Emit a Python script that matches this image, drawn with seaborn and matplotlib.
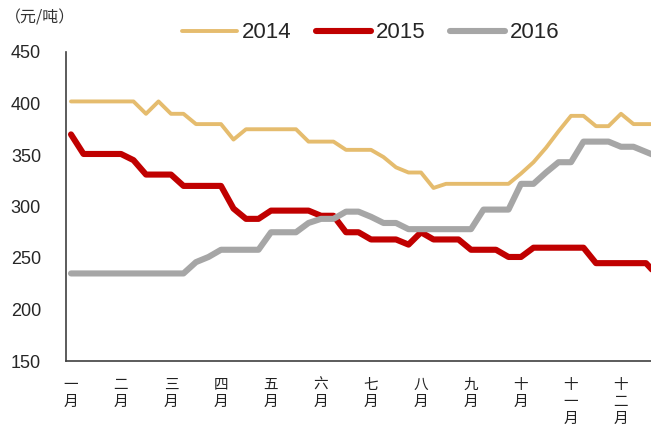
import matplotlib
matplotlib.use("Agg")
import matplotlib.pyplot as plt
import seaborn as sns
import numpy as np
import pandas as pd

# weekly prices (yuan / ton), 4 points per month
price_2014 = [402, 402, 402, 402, 402, 402, 390, 402, 390, 390, 380, 380,
              380, 365, 375, 375, 375, 375, 375, 363, 363, 363, 355, 355,
              355, 348, 338, 333, 333, 318, 322, 322, 322, 322, 322, 322,
              332, 343, 357, 373, 388, 388, 378, 378, 390, 380, 380, 380]
price_2015 = [370, 351, 351, 351, 351, 345, 331, 331, 331, 320, 320, 320,
              320, 298, 288, 288, 296, 296, 296, 296, 291, 291, 275, 275,
              268, 268, 268, 263, 275, 268, 268, 268, 258, 258, 258, 251,
              251, 260, 260, 260, 260, 260, 245, 245, 245, 245, 245, 232]
price_2016 = [235, 235, 235, 235, 235, 235, 235, 235, 235, 235, 246, 251,
              258, 258, 258, 258, 275, 275, 275, 284, 288, 288, 295, 295,
              290, 284, 284, 278, 278, 278, 278, 278, 278, 297, 297, 297,
              322, 322, 333, 343, 343, 363, 363, 363, 358, 358, 353, 348]
years = ["2014", "2015", "2016"]
month_labels = ["一\n月", "二\n月", "三\n月", "四\n月", "五\n月", "六\n月",
                "七\n月", "八\n月", "九\n月", "十\n月", "十\n一\n月", "十\n二\n月"]

colors = {"2014": "#E5BC6E", "2015": "#C00000", "2016": "#A6A6A6"}
widths = {"2014": 2.8, "2015": 4.4, "2016": 4.4}

weeks = np.arange(len(price_2014))
df = pd.DataFrame({
    "week": np.tile(weeks, 3),
    "price": price_2014 + price_2015 + price_2016,
    "year": np.repeat(years, len(weeks)),
})

sns.set_style("white")
plt.rcParams["font.family"] = ["Liberation Sans", "Noto Sans CJK SC", "DejaVu Sans"]

fig = plt.figure(figsize=(6.51, 4.26), dpi=100)
ax = fig.add_axes([66 / 651, 65 / 426, 585 / 651, 309 / 426])

for yr in years:
    sns.lineplot(data=df[df["year"] == yr], x="week", y="price", color=colors[yr],
                 linewidth=widths[yr], label=yr, ax=ax, legend=False)

ax.set_xlim(-0.4, 46.4)
ax.set_ylim(150, 450)
ax.set_yticks(np.arange(150, 451, 50))
ax.set_xlabel("")
ax.set_ylabel("")

# month boundary ticks (no labels), labels centred on first week of month
ax.set_xticks(np.arange(12) * 4 - 0.4)
ax.set_xticklabels([])
ax.set_xticks(np.arange(12) * 4, minor=True)
ax.set_xticklabels(month_labels, minor=True, fontsize=10.5,
                   family=["Noto Sans CJK SC"], linespacing=1.3, va="top",
                   color="#222222")
ax.tick_params(axis="x", which="minor", length=0, pad=12)
ax.tick_params(axis="x", which="major", length=5, width=1, color="#404040")
ax.tick_params(axis="y", length=5, width=1, color="#404040", pad=13, labelsize=13)

for s in ["top", "right"]:
    ax.spines[s].set_visible(False)
for s in ["left", "bottom"]:
    ax.spines[s].set_color("#404040")
    ax.spines[s].set_linewidth(1.2)

fig.text(5 / 651, 1 - 18 / 426, "（元/吨）", fontsize=11.5, va="center", ha="left",
         family=["Noto Sans CJK SC"], color="#333333")

handles, labels = ax.get_legend_handles_labels()
fig.legend(handles, labels, loc="center", bbox_to_anchor=(371 / 651, 1 - 33 / 426),
           ncol=3, frameon=False, fontsize=16, handlelength=2.45,
           handletextpad=0.25, columnspacing=1.1)

fig.savefig("out.png", dpi=100)
